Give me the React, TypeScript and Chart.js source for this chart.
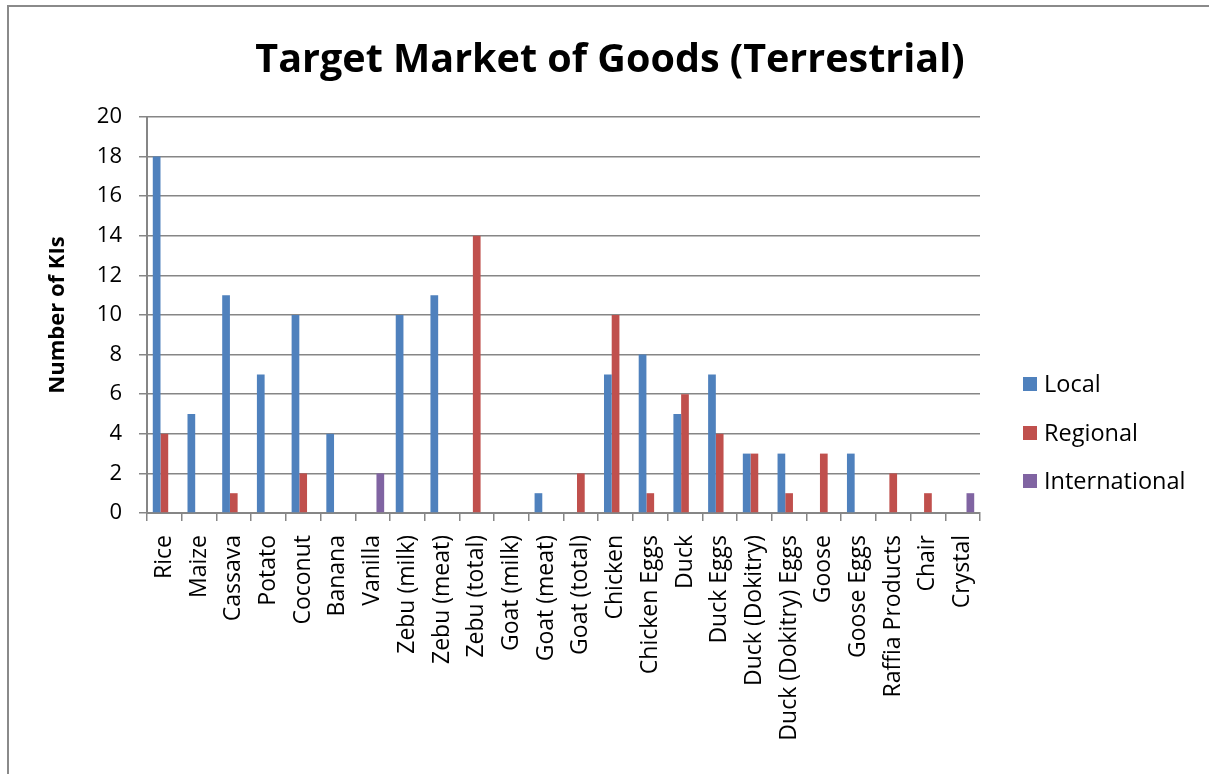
import React, { useEffect, useRef } from "react";
import { Chart, registerables } from "chart.js";

Chart.register(...registerables);

const categories = [
  "Rice", "Maize", "Cassava", "Potato", "Coconut", "Banana", "Vanilla",
  "Zebu (milk)", "Zebu (meat)", "Zebu (total)", "Goat (milk)", "Goat (meat)",
  "Goat (total)", "Chicken", "Chicken Eggs", "Duck", "Duck Eggs",
  "Duck (Dokitry)", "Duck (Dokitry) Eggs", "Goose", "Goose Eggs",
  "Raffia Products", "Chair", "Crystal",
];
const localValues = [18, 5, 11, 7, 10, 4, 0, 10, 11, 0, 0, 1, 0, 7, 8, 5, 7, 3, 3, 0, 3, 0, 0, 0];
const regionalValues = [4, 0, 1, 0, 2, 0, 0, 0, 0, 14, 0, 0, 2, 10, 1, 6, 4, 3, 1, 3, 0, 2, 1, 0];
const internationalValues = [0, 0, 0, 0, 0, 0, 2, 0, 0, 0, 0, 0, 0, 0, 0, 0, 0, 0, 0, 0, 0, 0, 0, 1];
const seriesNames = ["Local", "Regional", "International"];
const seriesColors = ["#4F81BD", "#C0504D", "#8064A2"];
const titleText = "Target Market of Goods (Terrestrial)";
const yAxisTitle = "Number of KIs";

const FONT = "'Open Sans', Lato, sans-serif";
const GRID = "#868686";

const decorPlugin = {
  id: "decor",
  beforeDraw(chart: any) {
    const ctx = chart.ctx;
    ctx.save();
    ctx.fillStyle = "#ffffff";
    ctx.fillRect(0, 0, chart.width, chart.height);
    ctx.strokeStyle = "#8a8a8a";
    ctx.lineWidth = 2;
    ctx.beginPath();
    ctx.moveTo(8, chart.height + 2);
    ctx.lineTo(8, 6);
    ctx.lineTo(chart.width + 2, 6);
    ctx.stroke();
    ctx.restore();
  },
  afterDraw(chart: any) {
    const ctx = chart.ctx;
    const area = chart.chartArea;
    ctx.save();
    // title
    ctx.fillStyle = "#000";
    ctx.font = `bold 39.5px ${FONT}`;
    ctx.textAlign = "center";
    ctx.textBaseline = "alphabetic";
    ctx.fillText(titleText, 610, 72);
    // y axis title
    ctx.save();
    ctx.translate(58, (area.top + area.bottom) / 2);
    ctx.rotate(-Math.PI / 2);
    ctx.font = `bold 22px ${FONT}`;
    ctx.textAlign = "center";
    ctx.textBaseline = "middle";
    ctx.fillText(yAxisTitle, 0, 0);
    ctx.restore();
    // legend
    const ys = [384, 433, 481];
    ctx.font = `23.5px ${FONT}`;
    ctx.textAlign = "left";
    ctx.textBaseline = "middle";
    seriesNames.forEach((name, i) => {
      ctx.fillStyle = seriesColors[i];
      ctx.fillRect(1023, ys[i] - 7, 14, 14);
      ctx.fillStyle = "#000";
      ctx.fillText(name, 1044, ys[i] + 1);
    });
    ctx.restore();
  },
};

export default function App() {
  const ref = useRef<HTMLCanvasElement>(null);
  useEffect(() => {
    if (!ref.current) return;
    const data = [localValues, regionalValues, internationalValues];
    const chart = new Chart(ref.current, {
      type: "bar",
      data: {
        labels: categories,
        datasets: seriesNames.map((name, i) => ({
          label: name,
          data: data[i],
          backgroundColor: seriesColors[i],
          borderWidth: 0,
          categoryPercentage: 2 / 3,
          barPercentage: 1,
        })),
      },
      options: {
        animation: false,
        responsive: false,
        devicePixelRatio: 1,
        layout: { padding: { top: 117, right: 229, bottom: 0, left: 0 } },
        plugins: {
          legend: { display: false },
          title: { display: false },
          tooltip: { enabled: false },
        },
        scales: {
          x: {
            offset: true,
            grid: {
              offset: true,
              drawOnChartArea: false,
              drawTicks: true,
              tickLength: 8,
              color: GRID,
              lineWidth: 1.5,
            },
            border: { color: GRID, width: 2 },
            ticks: {
              autoSkip: false,
              minRotation: 90,
              maxRotation: 90,
              padding: 14,
              color: "#000",
              font: { family: FONT, size: 23 },
            },
            afterFit(scale: any) {
              scale.height = 774 - 513;
            },
          },
          y: {
            min: 0,
            max: 20,
            ticks: {
              stepSize: 2,
              padding: 17,
              color: "#000",
              font: { family: FONT, size: 22 },
            },
            grid: {
              color: GRID,
              lineWidth: 1.5,
              tickLength: 8,
            },
            border: { color: GRID, width: 2 },
            afterFit(scale: any) {
              scale.width = 147;
            },
          },
        },
      },
      plugins: [decorPlugin],
    });
    return () => chart.destroy();
  }, []);
  return (
    <div style={{ position: "absolute", left: 0, top: 0, width: 1209, height: 774 }}>
      <canvas ref={ref} width={1209} height={774} />
    </div>
  );
}
